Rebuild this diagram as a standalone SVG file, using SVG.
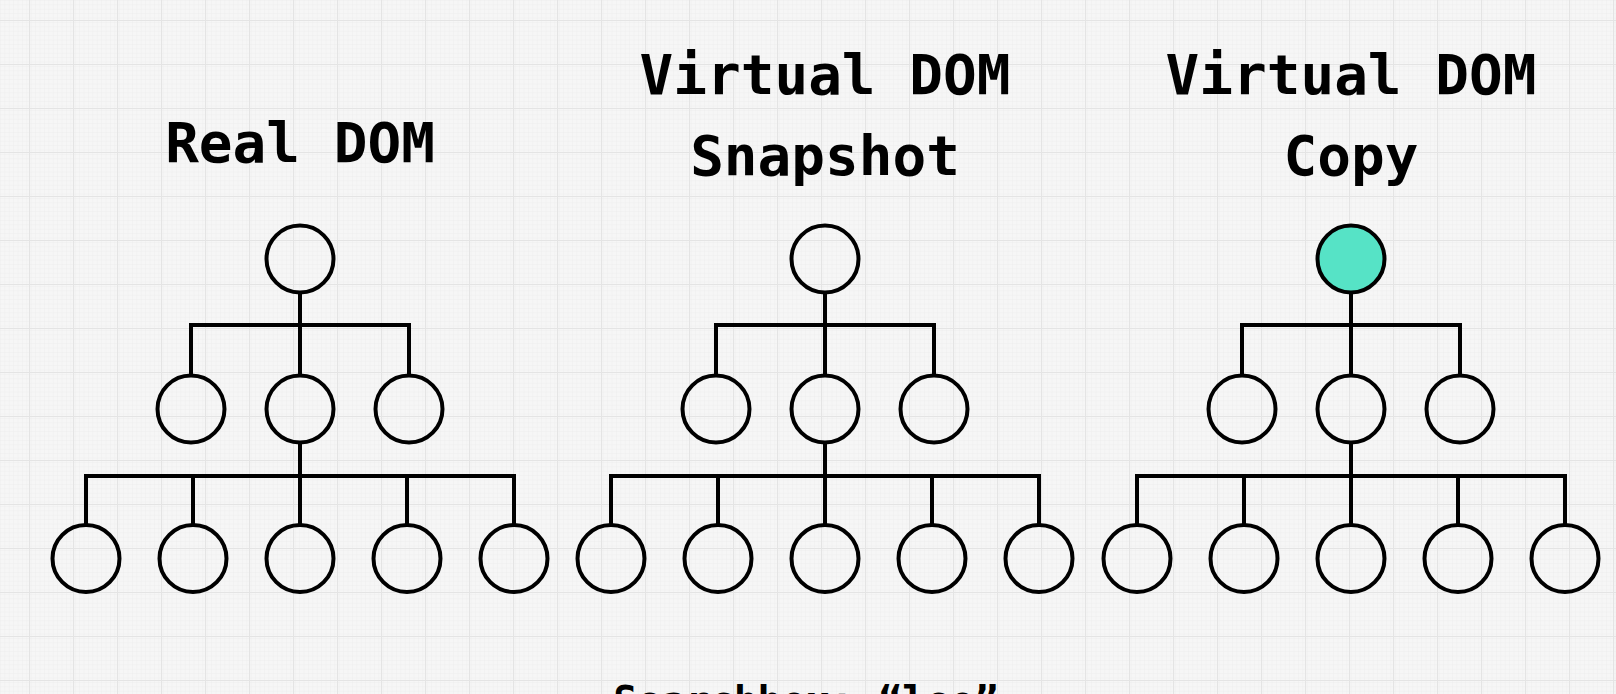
<svg xmlns="http://www.w3.org/2000/svg" width="1616" height="694" viewBox="0 0 1616 694">
<style>
.node{fill:none;stroke:#000;stroke-width:4}
.hl{fill:#56e3c6}
.conn path{fill:none;stroke:#000;stroke-width:4;stroke-linejoin:miter;stroke-linecap:butt}
.title{font-family:"DejaVu Sans Mono","Liberation Mono",monospace;font-weight:bold;font-size:56px;fill:#000;text-anchor:middle}
.caption{font-family:"DejaVu Sans Mono","Liberation Mono",monospace;font-weight:bold;font-size:40px;fill:#000;text-anchor:middle}
</style>
<defs>
<pattern id="minor" width="4.4" height="4.4" patternUnits="userSpaceOnUse">
<path d="M0 0H4.4M0 0V4.4" fill="none" stroke="#eaeaea" stroke-width="0.7"/>
</pattern>
<pattern id="major" x="29" y="20" width="44" height="44" patternUnits="userSpaceOnUse">
<path d="M0 0H44M0 0V44" fill="none" stroke="#e4e4e4" stroke-width="2.2"/>
</pattern>
</defs>
<rect width="1616" height="694" fill="#f6f6f6"/>
<rect width="1616" height="694" fill="url(#minor)"/>
<rect width="1616" height="694" fill="url(#major)"/>

<g id="titles">
<text class="title" x="300" y="162">Real DOM</text>
<text class="title" x="825" y="94">Virtual DOM</text>
<text class="title" x="825" y="175">Snapshot</text>
<text class="title" x="1351" y="94">Virtual DOM</text>
<text class="title" x="1351" y="175">Copy</text>
<text class="caption" x="806" y="715">Searchbox: “leo”</text>
</g>

<g id="connectors" class="conn">
<path d="M300 292.5V325M191 375.5V325H409V375.5M300 325V375.5M300 442.5V476M86 524.5V476H514V524.5M193 476V524.5M300 476V524.5M407 476V524.5"/>
<path d="M825 292.5V325M716 375.5V325H934V375.5M825 325V375.5M825 442.5V476M611 524.5V476H1039V524.5M718 476V524.5M825 476V524.5M932 476V524.5"/>
<path d="M1351 292.5V325M1242 375.5V325H1460V375.5M1351 325V375.5M1351 442.5V476M1137 524.5V476H1565V524.5M1244 476V524.5M1351 476V524.5M1458 476V524.5"/>
</g>

<g id="real-dom">
<g id="r-root"><circle class="node" cx="300" cy="259" r="33.5"/></g>
<g id="r-a1"><circle class="node" cx="191" cy="409" r="33.5"/></g>
<g id="r-a2"><circle class="node" cx="300" cy="409" r="33.5"/></g>
<g id="r-a3"><circle class="node" cx="409" cy="409" r="33.5"/></g>
<g id="r-b1"><circle class="node" cx="86" cy="558.5" r="33.5"/></g>
<g id="r-b2"><circle class="node" cx="193" cy="558.5" r="33.5"/></g>
<g id="r-b3"><circle class="node" cx="300" cy="558.5" r="33.5"/></g>
<g id="r-b4"><circle class="node" cx="407" cy="558.5" r="33.5"/></g>
<g id="r-b5"><circle class="node" cx="514" cy="558.5" r="33.5"/></g>
</g>

<g id="snapshot">
<g id="s-root"><circle class="node" cx="825" cy="259" r="33.5"/></g>
<g id="s-a1"><circle class="node" cx="716" cy="409" r="33.5"/></g>
<g id="s-a2"><circle class="node" cx="825" cy="409" r="33.5"/></g>
<g id="s-a3"><circle class="node" cx="934" cy="409" r="33.5"/></g>
<g id="s-b1"><circle class="node" cx="611" cy="558.5" r="33.5"/></g>
<g id="s-b2"><circle class="node" cx="718" cy="558.5" r="33.5"/></g>
<g id="s-b3"><circle class="node" cx="825" cy="558.5" r="33.5"/></g>
<g id="s-b4"><circle class="node" cx="932" cy="558.5" r="33.5"/></g>
<g id="s-b5"><circle class="node" cx="1039" cy="558.5" r="33.5"/></g>
</g>

<g id="copy">
<g id="c-root"><circle class="node hl" cx="1351" cy="259" r="33.5"/></g>
<g id="c-a1"><circle class="node" cx="1242" cy="409" r="33.5"/></g>
<g id="c-a2"><circle class="node" cx="1351" cy="409" r="33.5"/></g>
<g id="c-a3"><circle class="node" cx="1460" cy="409" r="33.5"/></g>
<g id="c-b1"><circle class="node" cx="1137" cy="558.5" r="33.5"/></g>
<g id="c-b2"><circle class="node" cx="1244" cy="558.5" r="33.5"/></g>
<g id="c-b3"><circle class="node" cx="1351" cy="558.5" r="33.5"/></g>
<g id="c-b4"><circle class="node" cx="1458" cy="558.5" r="33.5"/></g>
<g id="c-b5"><circle class="node" cx="1565" cy="558.5" r="33.5"/></g>
</g>
</svg>
